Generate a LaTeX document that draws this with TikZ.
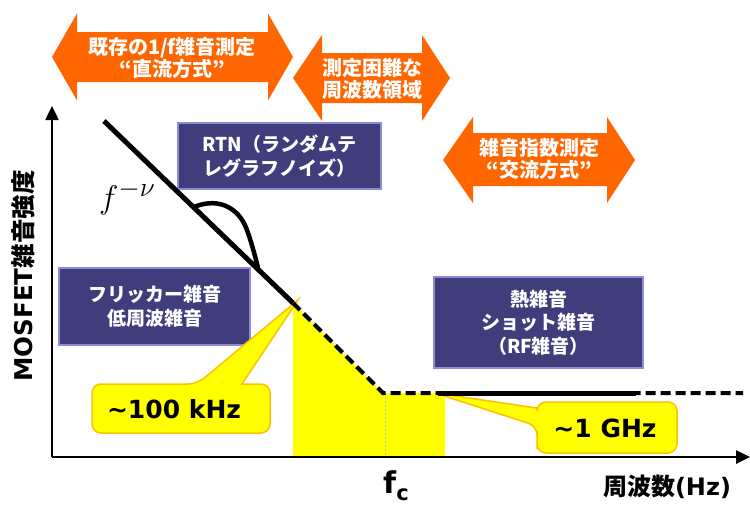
\documentclass[tikz,border=0pt]{standalone}
\usepackage{fontspec}
\newfontfamily\cjk{Noto Sans CJK JP}
\newfontfamily\lat{DejaVu Sans}
\usetikzlibrary{arrows.meta}
\definecolor{orng}{HTML}{FF6600}
\definecolor{boxblue}{HTML}{403D7C}
\definecolor{boxedge}{HTML}{8E8AD6}
\definecolor{yel}{HTML}{FFFF00}
\definecolor{caledge}{HTML}{FFC000}
\definecolor{fcline}{HTML}{A8C8D8}
\begin{document}
\begin{tikzpicture}[x=1pt,y=-1pt,
  bluebox/.style={draw=boxedge, line width=1.5pt, fill=boxblue, text=white,
    font=\cjk\bfseries\fontsize{19}{23.5}\selectfont, align=center, inner sep=0pt},
  arrowtxt/.style={text=white, font=\cjk\bfseries\fontsize{20}{22}\selectfont, align=center, inner sep=0pt},
  dblarrow/.style={fill=orng, draw=none},
  callout/.style={fill=yel, draw=caledge, line width=1.5pt},
  calltxt/.style={font=\lat\bfseries\fontsize{25}{25}\selectfont, inner sep=0pt},
  axisline/.style={line width=2.5pt, -{Triangle[length=14pt,width=13pt]}},
  solidcurve/.style={line width=5pt},
  dashcurve/.style={line width=4pt, dash pattern=on 10pt off 5pt},
  axislabel/.style={inner sep=0pt}]
\useasboundingbox (0,0) rectangle (750,507);

% yellow band
\fill[yel] (293,457) -- (293,303) -- (383,393) -- (445,393) -- (445,457) -- cycle;
\draw[fcline, line width=0.8pt, dash pattern=on 2pt off 2pt] (385,393) -- (385,457);

% orange double arrows
\fill[dblarrow] (52,57) -- (77,13.5) -- (77,32) -- (268,32) -- (268,13.5) -- (293,57)
  -- (268,100.5) -- (268,82) -- (77,82) -- (77,100.5) -- cycle;
\node[arrowtxt] (a1) at (172,57.5) {既存の1/f雑音測定\\“直流方式”};
\fill[dblarrow] (293,78) -- (322,35) -- (322,53) -- (422,53) -- (422,35) -- (450,78)
  -- (422,121) -- (422,103) -- (322,103) -- (322,121) -- cycle;
\node[arrowtxt] (a2) at (372,79) {測定困難な\\周波数領域};
\fill[dblarrow] (443,160) -- (473,117) -- (473,133) -- (607,133) -- (607,117) -- (635,160)
  -- (607,203) -- (607,186) -- (473,186) -- (473,203) -- cycle;
\node[arrowtxt] (a3) at (539,159) {雑音指数測定\\“交流方式”};

% blue boxes
\node[bluebox, minimum width=203pt, minimum height=66pt] (rtn) at (279.5,156)
  {RTN（ランダムテ\\レグラフノイズ）};
\node[bluebox, minimum width=191pt, minimum height=77pt] (flk) at (154.5,306.5)
  {フリッカー雑音\\低周波雑音};
\node[bluebox, minimum width=209pt, minimum height=91pt] (thm) at (538.5,322.5)
  {熱雑音\\ショット雑音\\（RF雑音）};

% callouts
\coordinate (t1) at (298,300);
\coordinate (t2) at (435,393);
\draw[callout, rounded corners=9pt] (150,384) -- (197,384) [sharp corners] -- (t1) -- (242,384)
  [rounded corners=9pt] -- (270,384) -- (270,433) -- (92,433) -- (92,384) -- cycle;
\node[calltxt] (c1) at (174,409) {\textasciitilde 100 kHz};
\draw[callout, rounded corners=9pt] (537,440) -- (537,426) [sharp corners] -- (t2) -- (537,408)
  [rounded corners=9pt] -- (537,402) -- (677,402) -- (677,453) -- (537,453) -- cycle;
\node[calltxt] (c2) at (605,428) {\textasciitilde 1 GHz};

% axes
\coordinate (o) at (52,457);
\coordinate (ytop) at (52,106);
\coordinate (xend) at (750,457);
\draw[axisline] (o) -- (ytop);
\draw[axisline] (o) -- (xend);

% noise curves
\coordinate (p0) at (104,121);
\coordinate (p1) at (293,303);
\coordinate (p2) at (383,393);
\coordinate (p3) at (743,393);
\coordinate (s0) at (438,393);
\coordinate (s1) at (636,393);
\draw[solidcurve] (p0) -- (p1);
\draw[dashcurve] (p1) -- (p2) -- (p3);
\draw[solidcurve] (s0) -- (s1);
\coordinate (b0) at (192,208);
\coordinate (b1) at (258,268);
\draw[line width=4.5pt] (b0) .. controls (215,197) and (238,205) .. (247,230)
  .. controls (253,247) and (256,260) .. (b1);

% labels
\node[anchor=base west, inner sep=0pt] (fnu) at (99,208) {\scalebox{1.32}{\Huge $f^{-\nu}$}};
\node[axislabel, rotate=90] (ylab) at (23,276)
  {\fontsize{24.5}{24.5}\selectfont{\lat\bfseries MOSFET}{\cjk\bfseries 雑音強度}};
\node[axislabel] (xlab) at (667,487)
  {\fontsize{24}{24}\selectfont{\cjk\bfseries 周波数}{\lat\bfseries (Hz)}};
\node[anchor=base west, inner sep=0pt] (fc) at (383,493)
  {\lat\bfseries\fontsize{30}{30}\selectfont f\raisebox{-7pt}{\fontsize{21}{21}\selectfont c}};
\end{tikzpicture}
\end{document}
